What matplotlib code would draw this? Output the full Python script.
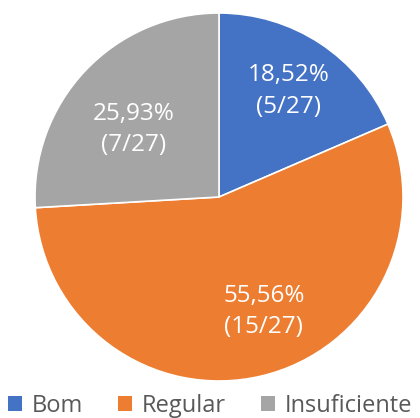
import numpy as np
import matplotlib
matplotlib.use('Agg')
import matplotlib.pyplot as plt
from matplotlib.patches import Patch

# dados
categorias = ['Bom', 'Regular', 'Insuficiente']
contagens = [5, 15, 7]
total = 27
percentuais = ['18,52%', '55,56%', '25,93%']
cores = ['#4472C4', '#ED7D31', '#A5A5A5']

plt.rcParams['font.family'] = ['Open Sans', 'DejaVu Sans']

fig = plt.figure(figsize=(4.2, 4.18), dpi=100)
ax = fig.add_axes([35 / 420, 37 / 418, 368 / 420, 368 / 418])

wedges, _ = ax.pie(contagens, colors=cores, startangle=90, counterclock=False,
                   radius=1.0, wedgeprops=dict(edgecolor='white', linewidth=1.2))
ax.set_xlim(-1, 1)
ax.set_ylim(-1, 1)
ax.set_aspect('equal')

# posição dos rótulos (ângulo médio ajustado, distância relativa ao raio)
ajustes = [(0.0, 0.69), (8.0, 0.67), (5.0, 0.59)]
for w, pct, n, (da, dist) in zip(wedges, percentuais, contagens, ajustes):
    ang = np.deg2rad((w.theta1 + w.theta2) / 2 + da)
    x, y = dist * np.cos(ang), dist * np.sin(ang)
    ax.text(x, y, f'{pct}\n({n}/{total})', ha='center', va='center',
            color='white', fontsize=17.5, linespacing=1.4)

handles = [Patch(facecolor=c, edgecolor='none') for c in cores]
fig.legend(handles, categorias, loc='lower center', bbox_to_anchor=(0.5, -0.05),
           ncol=3, frameon=False, fontsize=17, handlelength=0.6, handleheight=0.6,
           handletextpad=0.4, columnspacing=1.5, labelcolor='#595959')

fig.savefig('out.png', dpi=100)
